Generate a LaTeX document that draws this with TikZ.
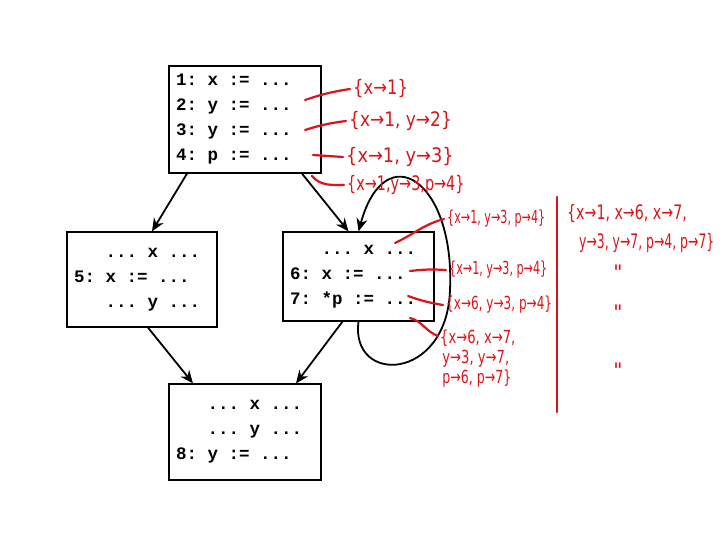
\documentclass[tikz,border=0pt]{standalone}
\usepackage{fontspec}
\usepackage{graphicx}
\setmonofont{Liberation Mono}
\newfontfamily\handfont{DejaVu Sans}
\usetikzlibrary{arrows.meta}
\definecolor{inkred}{RGB}{220,20,25}
\newcommand{\squeeze}[2]{\scalebox{#1}[1]{#2}}
\newcommand{\gap}{\hphantom{0}}
\tikzset{
  block/.style={draw, line width=1.2pt, inner sep=7pt, align=left, font=\ttfamily\bfseries\fontsize{17.5}{25}\selectfont},
  flow/.style={line width=1.8pt, -{Stealth[length=13pt, width=11pt]}},
  note/.style={anchor=west, inner sep=0pt, text=inkred, align=left, font=\handfont\fontsize{20}{20}\selectfont},
  small note/.style={note, font=\handfont\fontsize{18}{20}\selectfont},
  scribble/.style={draw=inkred, line width=2.2pt, line cap=round}
}
\begin{document}
\begin{tikzpicture}[x=1pt, y=-1pt]
	\useasboundingbox (0,0) rectangle (720,540);
	% Paths, nodes and wires:
	\node[block, minimum width=152pt, minimum height=107pt, text width=138pt] (b1) at (245,119.5) {1:\gap x\gap :=\gap ...\\2:\gap y\gap :=\gap ...\\3:\gap y\gap :=\gap ...\\4:\gap p\gap :=\gap ...};
	\node[block, minimum width=150pt, minimum height=95pt, text width=136pt] (b2) at (142,279.5) {\gap\gap\gap ...\gap x\gap ...\\5:\gap x\gap :=\gap ...\\\gap\gap\gap ...\gap y\gap ...};
	\node[block, minimum width=151pt, minimum height=89pt, text width=137pt] (b3) at (358.5,276.5) {\gap\gap\gap ...\gap x\gap ...\\6:\gap x\gap :=\gap ...\\7:\gap *p\gap :=\gap ...};
	\node[block, minimum width=152pt, minimum height=96pt, text width=138pt] (b4) at (245,432) {\gap\gap\gap ...\gap x\gap ...\\\gap\gap\gap ...\gap y\gap ...\\8:\gap y\gap :=\gap ...};
	\draw[flow] ([xshift=-58]b1.south) -- ([xshift=10]b2.north);
	\draw[flow] ([xshift=57]b1.south) -- ([xshift=-10]b3.north);
	\draw[flow] ([xshift=6]b2.south) -- ([xshift=-52]b4.north);
	\draw[flow] ([xshift=-16]b3.south) -- ([xshift=51]b4.north);
	\draw[flow] (b3.south) .. controls (350,385) and (447,382) .. (450,290) .. controls (455,180) and (385,135) .. (b3.north);
	\node[note] (s1) at (353,89) {\squeeze{0.82}{\{x→1\}}};
	\node[note] (s2) at (349,121) {\squeeze{0.85}{\{x→1, y→2\}}};
	\node[note] (s3) at (346,157) {\squeeze{0.89}{\{x→1, y→3\}}};
	\node[note] (s4) at (347,185) {\squeeze{0.72}{\{x→1,y→3,p→4\}}};
	\node[small note] (t1) at (447,219) {\squeeze{0.62}{\{x→1, y→3, p→4\}}};
	\node[small note] (t2) at (449,270) {\squeeze{0.62}{\{x→1, y→3, p→4\}}};
	\node[small note] (t3) at (446,305) {\squeeze{0.67}{\{x→6, y→3, p→4\}}};
	\node[small note, anchor=north west] (t4) at (440,330) {\squeeze{0.73}{\{x→6, x→7,}\\\squeeze{0.73}{\,y→3, y→7,}\\\squeeze{0.7}{\,p→6, p→7\}}};
	\node[note] (u1) at (567,214) {\squeeze{0.71}{\{x→1, x→6, x→7,}};
	\node[note] (u2) at (579,243) {\squeeze{0.62}{y→3, y→7, p→4, p→7\}}};
	\node[note, anchor=center] (d1) at (618,272) {"};
	\node[note, anchor=center] (d2) at (618,312) {"};
	\node[note, anchor=center] (d3) at (618,370) {"};
	\coordinate (c1) at (305,100);
	\coordinate (c2) at (305,130);
	\coordinate (c3) at (313,155);
	\coordinate (c4) at (312,176);
	\coordinate (c5) at (395,243);
	\coordinate (c6) at (410,271);
	\coordinate (c7) at (408,296);
	\coordinate (c8) at (410,318);
	\coordinate (v1) at (557,197);
	\coordinate (v2) at (557,412);
	\draw[scribble] (c1) to[bend left=5] ([xshift=-3]s1.west);
	\draw[scribble] (c2) to[bend left=5] ([xshift=-3]s2.west);
	\draw[scribble] (c3) -- ([xshift=-3]s3.west);
	\draw[scribble] (c4) to[out=-50, in=180] ([xshift=-3]s4.west);
	\draw[scribble] (c5) to[out=25, in=195] ([xshift=-3]t1.west);
	\draw[scribble] (c6) to[bend left=5] ([xshift=-3]t2.west);
	\draw[scribble] (c7) to[bend left=-5] ([xshift=-3]t3.west);
	\draw[scribble] (c8) to[out=-15, in=160] ([shift={(-2,6)}]t4.north west);
	\draw[scribble] (v1) -- (v2);
\end{tikzpicture}
\end{document}
